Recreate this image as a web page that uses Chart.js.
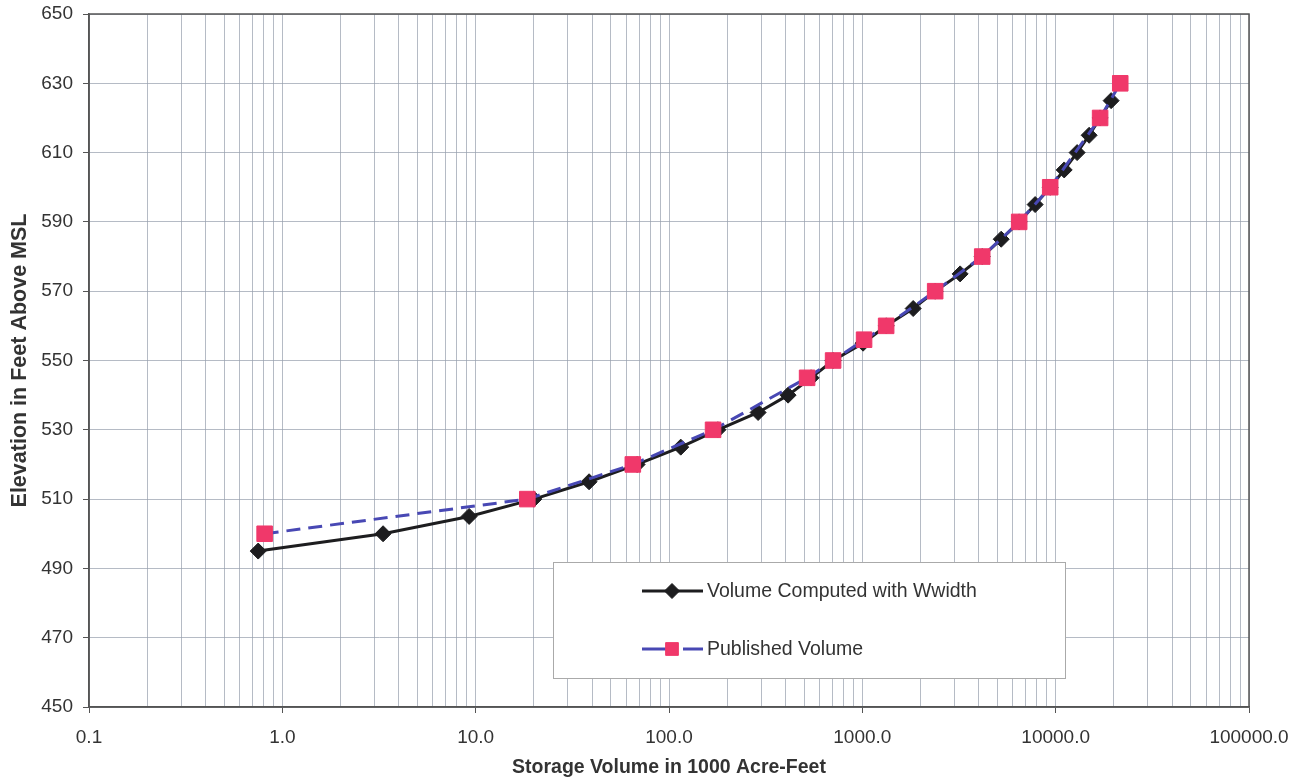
<!DOCTYPE html>
<html>
<head>
<meta charset="utf-8">
<script src="https://cdn.jsdelivr.net/npm/chart.js@4/dist/chart.umd.min.js"></script>
<style>
  html, body { margin: 0; padding: 0; background: #fff; }
  canvas { display: block; }
</style>
</head>
<body>
<canvas id="chart" width="1304" height="781"></canvas>
<script>
// Volume computed with Wwidth (1000 acre-feet) vs elevation (ft above MSL)
const computedElevation = [495, 500, 505, 510, 515, 520, 525, 530, 535, 540, 545, 550, 555, 560,
  565, 570, 575, 580, 585, 590, 595, 600, 605, 610, 615, 620, 625];
const computedVolume = [0.75, 3.32, 9.25, 20.0, 38.6, 68.4, 115, 179, 289, 413, 543, 706, 1009, 1330,
  1832, 2380, 3206, 4170, 5227, 6475, 7832, 9370, 11070, 12910, 14900, 16980, 19360];

// Published volume
const publishedElevation = [500, 510, 520, 530, 545, 550, 556, 560, 570, 580, 590, 600, 620, 630];
const publishedVolume = [0.81, 18.5, 65, 169, 518, 706, 1021, 1328, 2381, 4170, 6475, 9370, 16980, 21580];

const seriesLabels = ['Volume Computed with Wwidth', 'Published Volume'];

// axis ticks
const xDecades = [0.1, 1, 10, 100, 1000, 10000, 100000];
const xTickLabels = ['0.1', '1.0', '10.0', '100.0', '1000.0', '10000.0', '100000.0'];
const yTickStep = 20;

const FONT = '"Liberation Sans", Arial, sans-serif';
const TEXT = '#333';
const GRID = 'rgba(150,158,172,0.7)';

function decadeIndex(v) {
  return xDecades.findIndex(d => Math.abs(v - d) / d < 1e-6);
}

// frame round the plot area
const framePlugin = {
  id: 'frame',
  beforeDatasetsDraw(chart) {
    const { ctx, chartArea: a } = chart;
    ctx.save();
    ctx.strokeStyle = '#555';
    ctx.lineWidth = 1.5;
    ctx.strokeRect(a.left, a.top, a.right - a.left, a.bottom - a.top);
    ctx.restore();
  }
};

// legend box sitting inside the plot, like the original
const boxLegend = {
  id: 'boxLegend',
  afterDraw(chart) {
    const { ctx } = chart;
    const left = 553, top = 562, w = 512, h = 116;
    ctx.save();
    ctx.fillStyle = '#fff';
    ctx.fillRect(left, top, w, h);
    ctx.strokeStyle = '#aaa';
    ctx.lineWidth = 1;
    ctx.strokeRect(left + 0.5, top + 0.5, w, h);

    const rows = [top + 29, top + 87];
    chart.data.datasets.forEach((ds, i) => {
      const y = rows[i];
      const x0 = left + 89, x1 = left + 150, xm = left + 119;
      ctx.strokeStyle = ds.borderColor;
      ctx.lineWidth = ds.borderWidth;
      ctx.beginPath();
      if (ds.borderDash) {
        // "—■ —" like the original key
        ctx.moveTo(x0, y);
        ctx.lineTo(xm, y);
        ctx.moveTo(xm + 11, y);
        ctx.lineTo(x1, y);
      } else {
        ctx.moveTo(x0, y);
        ctx.lineTo(x1, y);
      }
      ctx.stroke();
      ctx.fillStyle = ds.pointBackgroundColor;
      ctx.strokeStyle = ds.pointBorderColor;
      ctx.lineWidth = 1;
      Chart.helpers.drawPoint(ctx, {
        pointStyle: ds.pointStyle,
        radius: ds.pointStyle === 'rect' ? 9 : 7.5,
        borderWidth: 1
      }, xm, y);
      ctx.fillStyle = TEXT;
      ctx.font = '19.5px ' + FONT;
      ctx.textBaseline = 'middle';
      ctx.fillText(ds.label, left + 154, y + 1);
    });
    ctx.restore();
  }
};

const ctx = document.getElementById('chart');

new Chart(ctx, {
  type: 'line',
  data: {
    datasets: [
      {
        label: seriesLabels[0],
        data: computedVolume.map((v, i) => ({ x: v, y: computedElevation[i] })),
        borderColor: '#1d1d1f',
        borderWidth: 3,
        pointStyle: 'rectRot',
        pointRadius: 8,
        pointBackgroundColor: '#1d1d1f',
        pointBorderColor: '#1d1d1f',
        pointBorderWidth: 1,
        tension: 0,
        order: 2
      },
      {
        label: seriesLabels[1],
        data: publishedVolume.map((v, i) => ({ x: v, y: publishedElevation[i] })),
        borderColor: '#4848b4',
        borderWidth: 3,
        borderDash: [14, 8],
        pointStyle: 'rect',
        pointRadius: 11,
        pointBackgroundColor: '#f0386a',
        pointBorderColor: '#f0386a',
        pointBorderWidth: 1,
        tension: 0,
        order: 1
      }
    ]
  },
  options: {
    responsive: false,
    animation: false,
    devicePixelRatio: 1,
    layout: { padding: { top: 14, right: 55, left: 0, bottom: 0 } },
    plugins: {
      legend: { display: false },
      tooltip: { enabled: false }
    },
    scales: {
      x: {
        type: 'logarithmic',
        min: 0.1,
        max: 100000,
        afterBuildTicks: scale => {
          const ticks = [];
          xDecades.forEach((d, i) => {
            if (i === xDecades.length - 1) {
              ticks.push({ value: d });
              return;
            }
            for (let m = 1; m <= 9; m++) ticks.push({ value: d * m });
          });
          scale.ticks = ticks;
        },
        afterFit: scale => { scale.height = 74; },
        ticks: {
          autoSkip: false,
          maxRotation: 0,
          padding: 13,
          color: TEXT,
          font: { family: FONT, size: 19 },
          callback: value => {
            const i = decadeIndex(value);
            return i >= 0 ? xTickLabels[i] : '';
          }
        },
        grid: {
          color: GRID,
          lineWidth: 1,
          tickLength: 6,
          tickColor: c => (c.tick && decadeIndex(c.tick.value) >= 0 ? '#555' : 'rgba(0,0,0,0)')
        },
        border: { color: '#555', width: 1.5 },
        title: {
          display: true,
          text: 'Storage Volume in 1000 Acre-Feet',
          color: TEXT,
          font: { family: FONT, size: 19.5, weight: 'bold' },
          padding: { top: 0, bottom: 2 }
        }
      },
      y: {
        min: 450,
        max: 650,
        afterFit: scale => {
          scale.width = 89;
          scale.paddingTop = 0;
          scale.paddingBottom = 0;
        },
        ticks: {
          stepSize: yTickStep,
          padding: 10,
          color: TEXT,
          font: { family: FONT, size: 19 }
        },
        grid: {
          color: GRID,
          lineWidth: 1,
          tickLength: 6,
          tickColor: '#555'
        },
        border: { color: '#555', width: 1.5 },
        title: {
          display: true,
          text: 'Elevation in Feet Above MSL',
          color: TEXT,
          font: { family: FONT, size: 21.5, weight: 'bold' },
          padding: { top: 7, bottom: 0 }
        }
      }
    }
  },
  plugins: [framePlugin, boxLegend]
});
</script>
</body>
</html>
